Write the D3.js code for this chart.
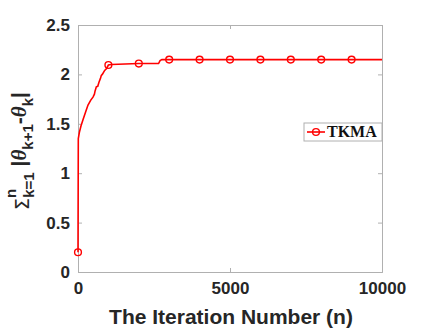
<!DOCTYPE html>
<html>
<head>
<meta charset="utf-8">
<script src="https://cdn.jsdelivr.net/npm/d3@7"></script>
<style>
  body { margin: 0; background: #fff; }
  svg { display: block; }
  .axis text { font-family: "Liberation Sans", Arial, sans-serif; font-weight: bold; font-size: 17px; fill: #262626; }
  .axis path, .axis line { stroke: #b0b0b0; }
</style>
</head>
<body>
<svg id="chart"></svg>
<script>
// iteration number and accumulated parameter change for TKMA
const iters = [0, 10, 50, 100, 164, 250, 329, 420, 493, 540, 560, 603, 650, 690, 740, 767, 800, 877, 940, 1000, 1100, 2000, 2650, 2700, 2760, 3000, 4000, 5000, 6000, 7000, 8000, 9000, 10000];
const values = [0.2, 1.35, 1.42, 1.48, 1.54, 1.62, 1.69, 1.74, 1.77, 1.80, 1.83, 1.875, 1.88, 1.92, 1.96, 1.99, 2.00, 2.04, 2.06, 2.095, 2.10, 2.11, 2.11, 2.14, 2.15, 2.15, 2.15, 2.15, 2.15, 2.15, 2.15, 2.15, 2.15];
const markerIters = [0, 1000, 2000, 3000, 4000, 5000, 6000, 7000, 8000, 9000];
const xTicks = [0, 5000, 10000];
const yTicks = [0, 0.5, 1, 1.5, 2, 2.5];
const seriesName = "TKMA";

const W = 423, H = 330;
const margin = { top: 25, right: 41, bottom: 58, left: 78 };
const width = W - margin.left - margin.right;
const height = H - margin.top - margin.bottom;

const svg = d3.select("#chart").attr("width", W).attr("height", H);
const g = svg.append("g").attr("transform", "translate(" + margin.left + "," + margin.top + ")");

const x = d3.scaleLinear().domain([0, 10000]).range([0, width]);
const y = d3.scaleLinear().domain([0, 2.5]).range([height, 0]);

// box with inward ticks on all sides
g.append("g").attr("class", "axis").attr("transform", "translate(0," + height + ")")
  .call(d3.axisBottom(x).tickValues(xTicks).tickSize(-4).tickPadding(10).tickFormat(d3.format("d")));
g.append("g").attr("class", "axis")
  .call(d3.axisTop(x).tickValues(xTicks).tickSize(-4).tickFormat(""));
g.append("g").attr("class", "axis")
  .call(d3.axisLeft(y).tickValues(yTicks).tickSize(-4).tickPadding(8).tickFormat(d3.format("")));
g.append("g").attr("class", "axis").attr("transform", "translate(" + width + ",0)")
  .call(d3.axisRight(y).tickValues(yTicks).tickSize(-4).tickFormat(""));
g.selectAll(".axis .domain").attr("stroke", "#b0b0b0");

const data = iters.map((n, i) => ({ n: n, v: values[i] }));

const line = d3.line().x(d => x(d.n)).y(d => y(d.v));
g.append("path").datum(data)
  .attr("fill", "none").attr("stroke", "#ff0000").attr("stroke-width", 1.6)
  .attr("d", line);

g.selectAll(".mk").data(data.filter(d => markerIters.includes(d.n)))
  .enter().append("circle")
  .attr("class", "mk")
  .attr("cx", d => x(d.n)).attr("cy", d => y(d.v)).attr("r", 3.4)
  .attr("fill", "none").attr("stroke", "#ff0000").attr("stroke-width", 1.4);

// x label
svg.append("text")
  .attr("x", 231).attr("y", 324)
  .attr("text-anchor", "middle")
  .style("font-family", "Liberation Sans, Arial, sans-serif").style("font-weight", "bold").style("font-size", "21px").style("fill", "#262626")
  .text("The Iteration Number (n)");

// y label
const yl = svg.append("text")
  .attr("transform", "translate(26,151) rotate(-90)")
  .attr("text-anchor", "middle")
  .style("font-family", "Liberation Sans, Arial, sans-serif").style("font-weight", "bold").style("font-size", "21px").style("fill", "#262626");
yl.append("tspan").style("font-weight", "normal").style("font-family", "DejaVu Sans").style("font-size", "19px").attr("dy", 3).text("Σ");
yl.append("tspan").style("font-size", "15px").attr("dy", -13).text("n");
yl.append("tspan").style("font-size", "15px").attr("dx", -9).attr("dy", 18).text("k=1");
yl.append("tspan").attr("dy", -8).text(" |");
yl.append("tspan").style("font-style", "italic").style("font-family", "Liberation Serif").text("θ");
yl.append("tspan").style("font-size", "15px").attr("dy", 7).text("k+1");
yl.append("tspan").attr("dy", -7).text("-");
yl.append("tspan").style("font-style", "italic").style("font-family", "Liberation Serif").text("θ");
yl.append("tspan").style("font-size", "15px").attr("dy", 7).text("k");
yl.append("tspan").attr("dy", -7).text("|");

// legend
const lg = svg.append("g").attr("transform", "translate(304,123)");
lg.append("rect").attr("width", 78).attr("height", 18)
  .attr("fill", "#fff").attr("stroke", "#b0b0b0").attr("stroke-width", 1);
lg.append("line").attr("x1", 3).attr("x2", 21).attr("y1", 9).attr("y2", 9)
  .attr("stroke", "#ff0000").attr("stroke-width", 1.6);
lg.append("circle").attr("cx", 12).attr("cy", 9).attr("r", 3.4)
  .attr("fill", "none").attr("stroke", "#ff0000").attr("stroke-width", 1.4);
lg.append("text").attr("x", 23).attr("y", 14)
  .style("font-family", "Liberation Serif, serif").style("font-weight", "bold").style("font-size", "16px").style("fill", "#111")
  .text(seriesName);
</script>
</body>
</html>
